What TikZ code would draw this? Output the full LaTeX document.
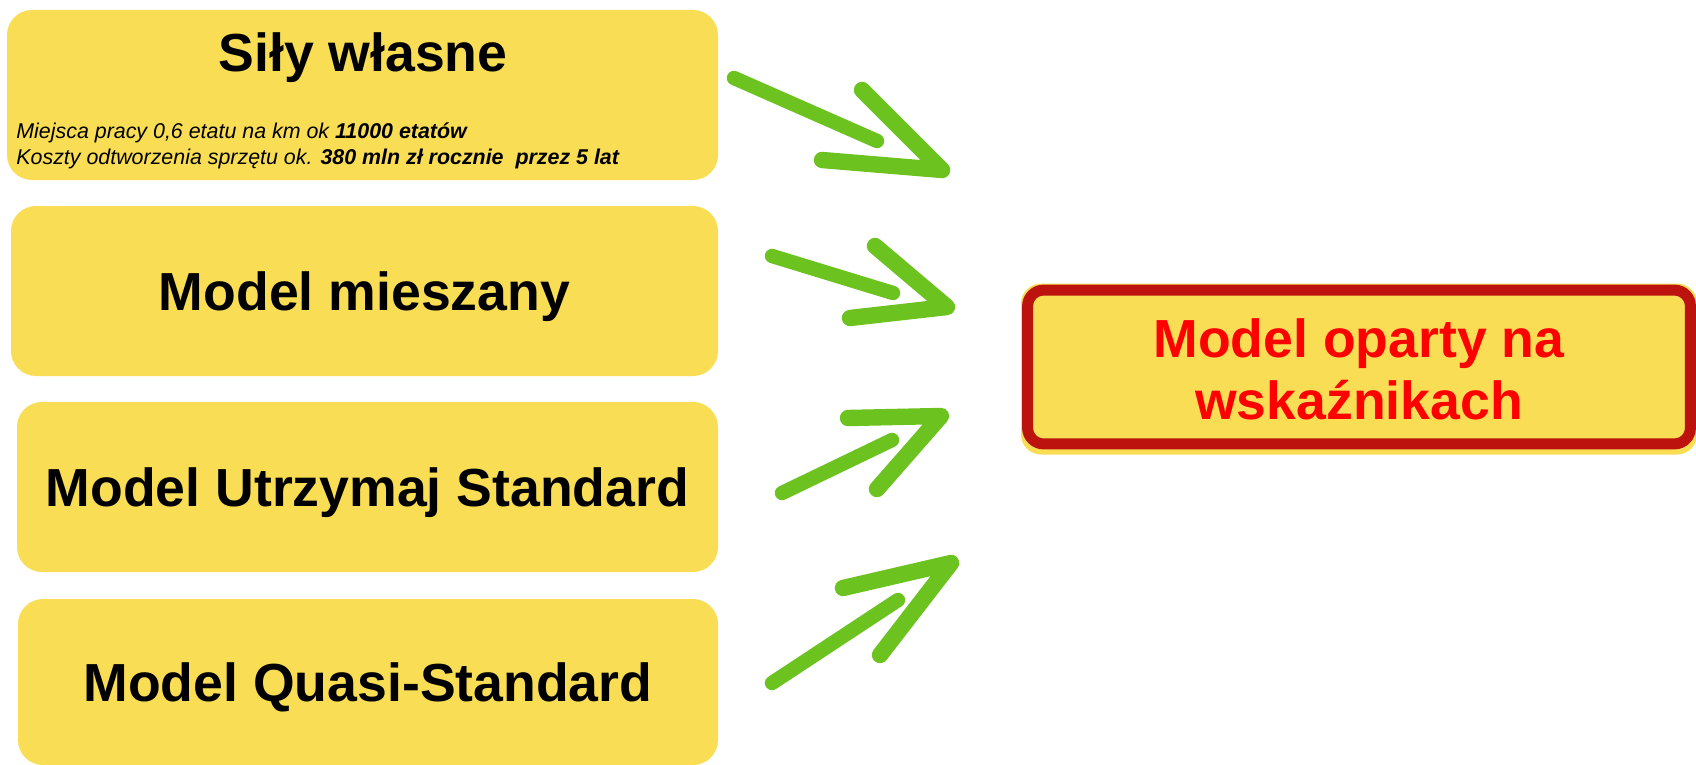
\documentclass[tikz,border=0pt]{standalone}
\usepackage{fontspec}
\setmainfont{Liberation Sans}
\usepackage{tikz}
\usetikzlibrary{calc}
\definecolor{boxfill}{HTML}{F9DE55}
\definecolor{brushgreen}{HTML}{6CC21E}
\definecolor{brushred}{HTML}{BC130F}
\definecolor{labelred}{HTML}{FF0000}
\tikzset{
  box/.style={fill=boxfill, rounded corners=12.5pt, inner sep=0pt},
  title/.style={font=\fontsize{26.8}{31}\selectfont\bfseries, text=black},
  note/.style={font=\fontsize{10.7}{12.5}\selectfont\itshape, anchor=base west, inner sep=0pt},
  shaft/.style={draw=brushgreen, line width=7.2pt, line cap=round},
  head/.style={draw=brushgreen, line width=8.2pt, line cap=round, line join=round},
  rim/.style={draw=brushred, line width=5.5pt, rounded corners=8pt},
}
\begin{document}
\begin{tikzpicture}[x=0.5pt, y=-0.5pt]
  \useasboundingbox[fill=white] (0,0) rectangle (1696,765);

  % left column
  \node[box, minimum width=355.5pt, minimum height=85pt] (sily) at (362.5,95) {};
  \node[title, anchor=base] (silytitle) at (363,72) {Siły własne};
  \node[note] (etaty) at (16,139) {Miejsca pracy 0,6 etatu na km ok \textbf{11000 etatów}};
  \node[note] (koszty) at (16,164) {Koszty odtworzenia sprzętu ok. \textbf{380 mln zł rocznie\ \ przez 5 lat}};

  \node[box, title, minimum width=353.5pt, minimum height=85pt, text height=19.2pt, text depth=0pt] (mieszany) at (364.5,291) {Model mieszany};
  \node[box, title, minimum width=350.5pt, minimum height=85pt, text height=19.2pt, text depth=0pt] (utrzymaj) at (367.5,487) {Model Utrzymaj Standard};
  \node[box, title, minimum width=350pt, minimum height=83pt, text height=19.2pt, text depth=0pt] (quasi) at (368,682) {Model Quasi-Standard};

  % target
  \node[box, title, text=labelred, align=center, rounded corners=10pt, minimum width=338pt, minimum height=85.5pt] (wskazniki) at (1359,369) {Model oparty na\\wskaźnikach};
  \draw[rim] ($(wskazniki.north west)+(7,7)$) rectangle ($(wskazniki.south east)+(-7,-11)$);

  % brush arrows
  \coordinate (s1) at (734,78);  \coordinate (e1) at (877,141);
  \coordinate (u1) at (862,90);  \coordinate (t1) at (942,170); \coordinate (l1) at (822,160);
  \coordinate (s2) at (772,256); \coordinate (e2) at (893,293);
  \coordinate (u2) at (875,246); \coordinate (t2) at (947,307); \coordinate (l2) at (850,318);
  \coordinate (s3) at (782,493); \coordinate (e3) at (892,440);
  \coordinate (u3) at (848,418); \coordinate (t3) at (941,416); \coordinate (l3) at (877,489);
  \coordinate (s4) at (772,683); \coordinate (e4) at (898,600);
  \coordinate (u4) at (843,588); \coordinate (t4) at (951,563); \coordinate (l4) at (880,655);

  \draw[shaft] (s1) -- (e1);
  \draw[head] (u1) -- (t1) -- (l1);
  \draw[shaft] (s2) -- (e2);
  \draw[head] (u2) -- (t2) -- (l2);
  \draw[shaft] (s3) -- (e3);
  \draw[head] (u3) -- (t3) -- (l3);
  \draw[shaft] (s4) -- (e4);
  \draw[head] (u4) -- (t4) -- (l4);
\end{tikzpicture}
\end{document}
